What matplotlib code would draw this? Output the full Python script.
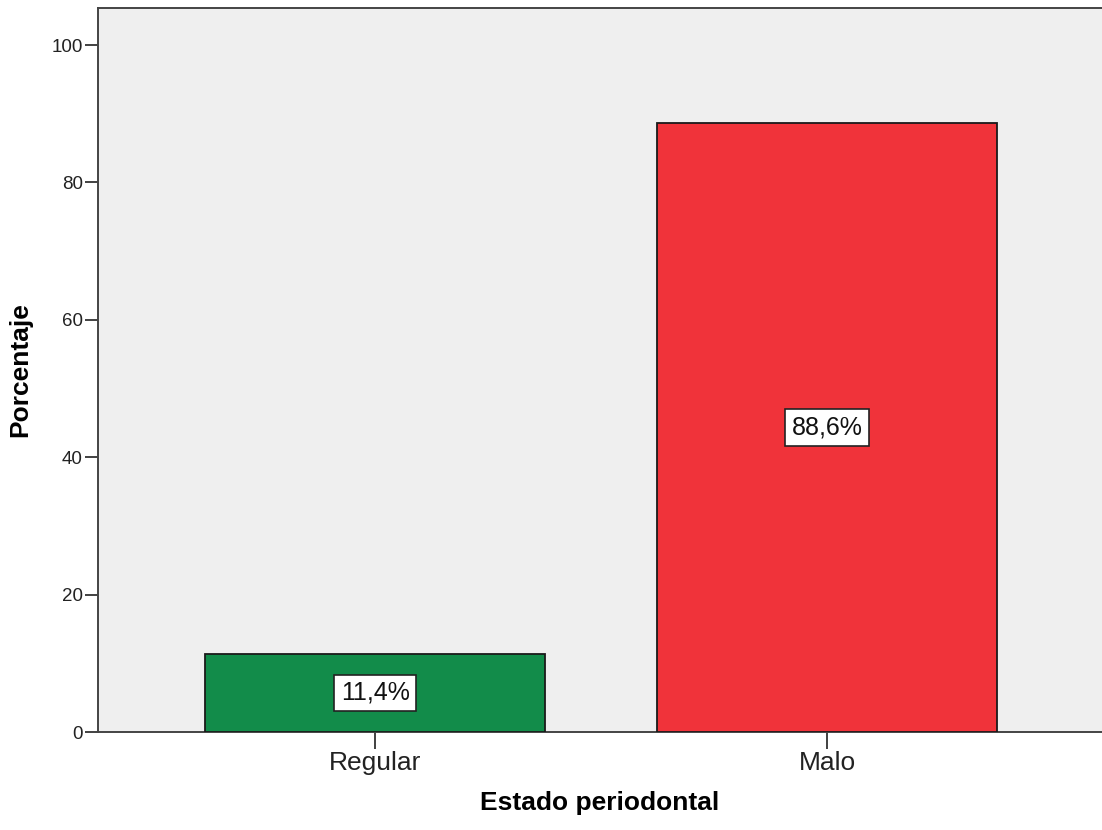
import matplotlib
matplotlib.use("Agg")
import matplotlib.pyplot as plt

categories = ["Regular", "Malo"]
percentages = [11.4, 88.6]
bar_colors = ["#128c4a", "#f0333a"]
value_labels = ["11,4%", "88,6%"]
y_ticks = [0, 20, 40, 60, 80, 100]

plt.rcParams["font.family"] = ["Liberation Sans", "DejaVu Sans"]

fig = plt.figure(figsize=(11.02, 8.30), dpi=100)
W, H = 1102, 830
ax = fig.add_axes([98 / W, 1 - 732 / H, (1102 - 98) / W, (732 - 8) / H])
ax.set_facecolor("#efefef")

x = list(range(len(categories)))
ax.bar(x, percentages, width=0.752, color=bar_colors, edgecolor="#1a1a1a",
       linewidth=1.3, zorder=3)

for xi, v, lab in zip(x, percentages, value_labels):
    ax.text(xi, v / 2, lab, ha="center", va="center", fontsize=18,
            color="#111111", zorder=4,
            bbox=dict(boxstyle="square,pad=0.25", facecolor="white",
                      edgecolor="#222222", linewidth=1.2))

ax.set_xlim(-0.613, 1.608)
ax.set_ylim(0, 105.4)
ax.set_xticks(x)
ax.set_xticklabels(categories, fontsize=19)
ax.set_yticks(y_ticks)
ax.set_yticklabels([str(t) for t in y_ticks], fontsize=13.5)
ax.tick_params(axis="both", colors="#333333", width=1.3)
ax.tick_params(axis="x", length=12.5, labelcolor="#222222", pad=1.5)
ax.tick_params(axis="y", length=9.5, labelcolor="#222222", pad=1.5)

for side in ["left", "bottom", "top"]:
    ax.spines[side].set_color("#444444")
    ax.spines[side].set_linewidth(1.4)
ax.spines["right"].set_visible(False)

ax.set_xlabel("Estado periodontal", fontsize=19, fontweight="bold", labelpad=11)
ax.set_ylabel("Porcentaje", fontsize=19, fontweight="bold", labelpad=14)

fig.savefig("out.png", dpi=100)
